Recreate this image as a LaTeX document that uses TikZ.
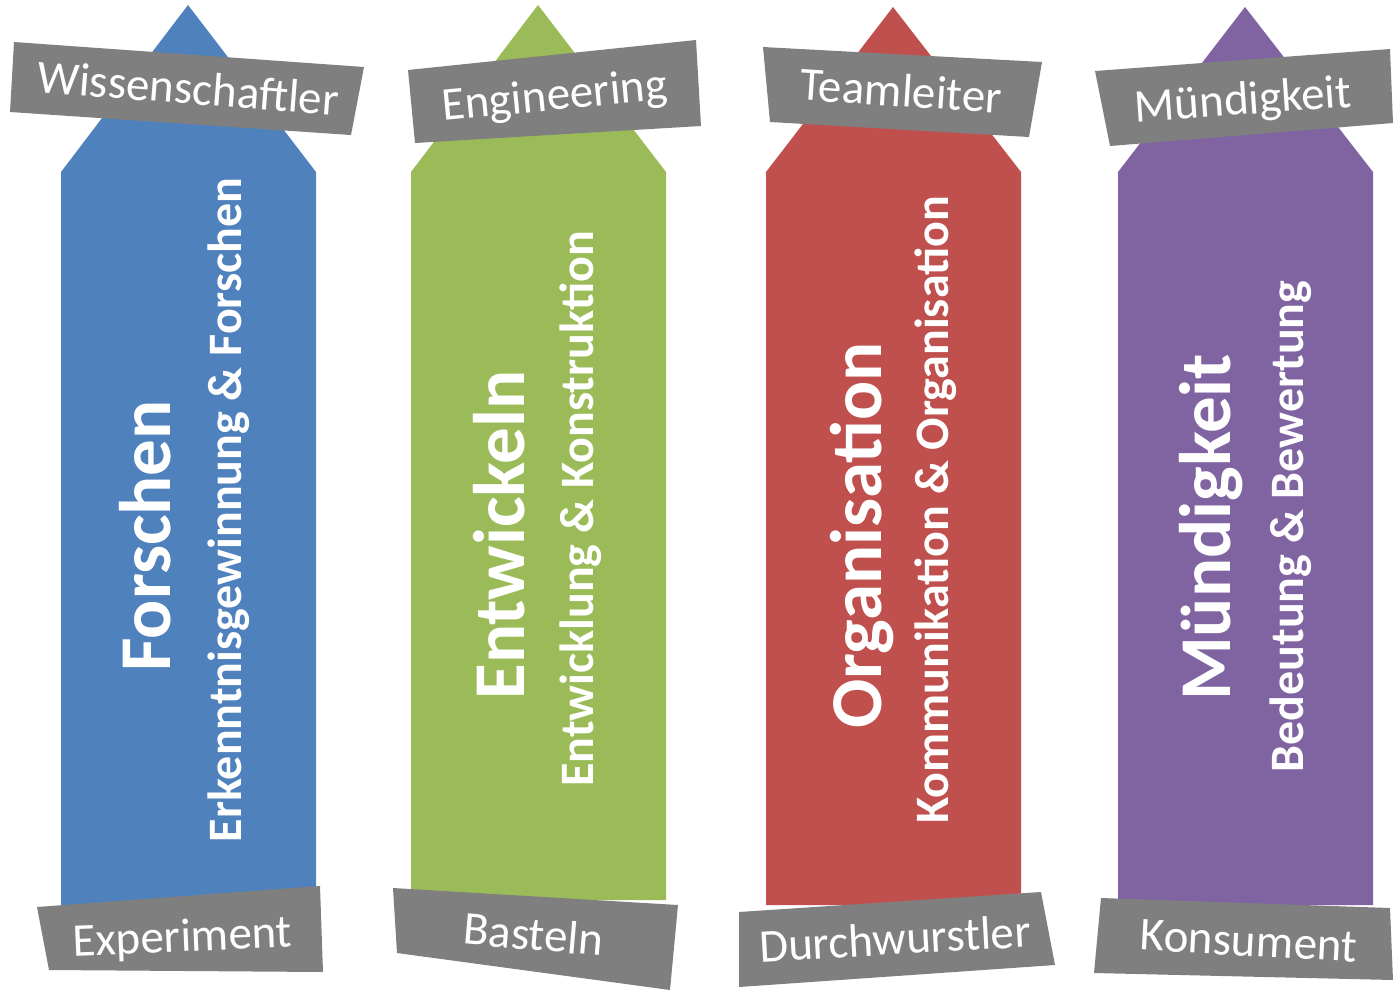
\documentclass[tikz,border=0pt]{standalone}
\usepackage{fontspec}
\setmainfont{Carlito}
\definecolor{cblue}{HTML}{4F81BD}
\definecolor{cgreen}{HTML}{9BBB59}
\definecolor{cred}{HTML}{C0504D}
\definecolor{cpurple}{HTML}{8064A2}
\definecolor{cgray}{HTML}{7F7F7F}
\tikzset{
  title/.style={text=white, inner sep=0pt, anchor=base, rotate=90, font=\bfseries\fontsize{73}{80}\selectfont},
  subtitle/.style={text=white, inner sep=0pt, anchor=base, rotate=90, font=\bfseries\fontsize{48}{54}\selectfont},
  labeltext/.style={text=white, inner sep=0pt, anchor=base, font=\fontsize{47}{52}\selectfont},
  labelbox/.style={fill=cgray, draw=none}
}
\begin{document}
\begin{tikzpicture}[x=1pt,y=-1pt]
\useasboundingbox (0,0) rectangle (1393,994);
% arrows
\fill[cblue]   (61,172) -- (188,5) -- (316,172) -- (316,905) -- (61,905) -- cycle;
\fill[cgreen]  (411,172) -- (538,5) -- (666,172) -- (666,900) -- (411,900) -- cycle;
\fill[cred]    (766,172) -- (893,7) -- (1021,172) -- (1021,905) -- (766,905) -- cycle;
\fill[cpurple] (1118,172) -- (1245,7) -- (1373,172) -- (1373,905) -- (1118,905) -- cycle;
% arrow texts
\node[title]    (t1) at (170.7,536) {Forschen};
\node[subtitle] (s1) at (241,510) {Erkenntnisgewinnung \& Forschen};
\node[title]    (t2) at (524,535) {Entwickeln};
\node[subtitle] (s2) at (593,509) {Entwicklung \& Konstruktion};
\node[title]    (t3) at (881,535.5) {Organisation};
\node[subtitle] (s3) at (948,510) {Kommunikation \& Organisation};
\node[title]    (t4) at (1230,527.5) {Mündigkeit};
\node[subtitle] (s4) at (1303,526.5) {Bedeutung \& Bewertung};
% top labels
\fill[labelbox] (14,42) -- (364,67) -- (351,135) -- (10,112) -- cycle;
\node[labeltext, rotate=-4.5] (l1) at (187,104) {Wissenschaftler};
\fill[labelbox] (408,70) -- (696,40) -- (701,126) -- (415,143) -- cycle;
\node[labeltext, rotate=5.5] (l2) at (556,110) {Engineering};
\fill[labelbox] (763,47) -- (1042,62) -- (1029,137) -- (770,122) -- cycle;
\node[labeltext, rotate=-3.8] (l3) at (900,106.5) {Teamleiter};
\fill[labelbox] (1095,71) -- (1390,49) -- (1393,123) -- (1110,146) -- cycle;
\node[labeltext, rotate=4] (l4) at (1244,114.5) {Mündigkeit};
% bottom labels
\fill[labelbox] (37,907) -- (320,886) -- (323,972) -- (49,970) -- cycle;
\node[labeltext, rotate=2.4] (b1) at (183,951.5) {Experiment};
\fill[labelbox] (393,888) -- (678,905) -- (670,990) -- (397,953) -- cycle;
\node[labeltext, rotate=-5] (b2) at (532,950) {Basteln};
\fill[labelbox] (739,912) -- (1041,892) -- (1055,965) -- (739,987) -- cycle;
\node[labeltext, rotate=3.2] (b3) at (896,954.5) {Durchwurstler};
\fill[labelbox] (1101,898) -- (1390,908) -- (1393,980) -- (1094,973) -- cycle;
\node[labeltext, rotate=-3.2] (b4) at (1248,956) {Konsument};
\end{tikzpicture}
\end{document}
